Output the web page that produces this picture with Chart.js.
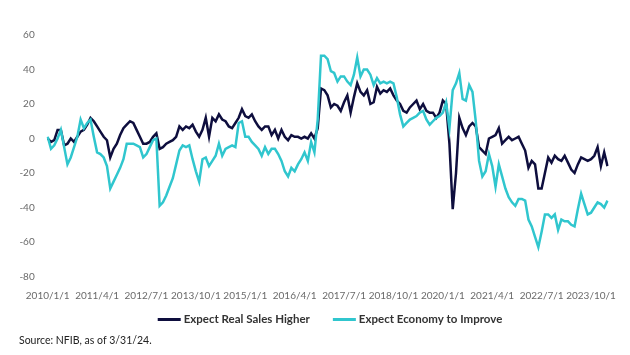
<!DOCTYPE html>
<html>
<head>
<meta charset="utf-8">
<script src="https://cdn.jsdelivr.net/npm/chart.js@4.4.1/dist/chart.umd.min.js"></script>
<style>
html,body{margin:0;padding:0;background:#ffffff;}
#wrap{width:630px;height:355px;position:relative;}
</style>
</head>
<body>
<div id="wrap"><canvas id="c" width="630" height="355"></canvas></div>
<script>
// Monthly categories, 2010/1/1 .. 2024/3/1
const startYear = 2010;
const monthCount = 171;
const categories = [];
for (let k = 0; k < monthCount; k++) {
  categories.push((startYear + Math.floor(k / 12)) + '/' + (k % 12 + 1) + '/1');
}

// Tick labels shown on the x axis
const tickLabels = ['2010/1/1','2011/4/1','2012/7/1','2013/10/1','2015/1/1','2016/4/1',
  '2017/7/1','2018/10/1','2020/1/1','2021/4/1','2022/7/1','2023/10/1'];

const seriesNames = ['Expect Real Sales Higher', 'Expect Economy to Improve'];

// Expect Real Sales Higher (net %)
const realSalesHigher = [
  0, -2, -1, 5, 5, -4, -3, 0, -2, 1,
  4, 5, 8, 12, 10, 7, 4, 1, -1, -11,
  -6, -3, 2, 6, 8, 10, 9, 5, 1, -3,
  -3, -2, 1, 3, -6, -5, -3, -2, -1, 1,
  7, 5, 7, 6, 8, 4, 1, 5, 12, 1,
  12, 10, 14, 11, 10, 7, 6, 9, 12, 17,
  13, 12, 14, 10, 7, 5, 7, 7, 2, 5,
  0, 5, 1, -1, 2, 1, 1, 0, 1, 0,
  3, 0, 6, 29, 28, 25, 18, 20, 19, 16,
  21, 25, 15, 24, 32, 27, 25, 28, 20, 21,
  30, 26, 28, 27, 29, 25, 22, 20, 16, 15,
  18, 20, 22, 17, 20, 16, 15, 15, 12, 15,
  22, 20, -3, -41, -20, 12, 6, 2, 7, 9,
  7, -5, -7, -9, 0, 1, 2, 6, -3, -1,
  1, -1, 0, 1, -3, -7, -17, -13, -15, -29,
  -29, -20, -11, -14, -10, -12, -13, -10, -14, -18,
  -20, -15, -11, -12, -13, -12, -10, -5, -16, -8,
  -16
];

// Expect Economy to Improve (net %)
const economyToImprove = [
  1, -6, -4, 0, 5, -5, -15, -11, -5, 1,
  11, 6, 9, 11, 1, -8, -9, -11, -16, -29,
  -25, -21, -17, -12, -3, -3, -3, -4, -5, -11,
  -9, -5, -1, 0, -39, -37, -33, -28, -23, -15,
  -7, -4, -5, -4, -12, -19, -25, -12, -11, -16,
  -13, -10, -3, -10, -6, -5, -4, -5, 9, 10,
  1, 1, -2, -4, -6, -10, -5, -9, -6, -6,
  -9, -13, -19, -22, -17, -19, -15, -12, -8, -13,
  -2, -8, 11, 48, 48, 46, 39, 38, 33, 36,
  36, 33, 31, 37, 47, 36, 40, 40, 37, 31,
  35, 32, 33, 32, 33, 32, 24, 14, 7, 9,
  11, 12, 13, 15, 16, 11, 8, 10, 12, 13,
  15, 21, 6, 28, 32, 38, 23, 22, 31, 27,
  10, -13, -22, -19, -9, -16, -28, -15, -22, -29,
  -34, -37, -39, -35, -35, -36, -47, -51, -57, -63,
  -54, -44, -44, -46, -44, -53, -47, -48, -48, -50,
  -51, -41, -32, -38, -44, -43, -40, -37, -38, -40,
  -36
];

const yTicks = { min: -80, max: 60, step: 20 };

const NAVY = '#0e0e3e';
const CYAN = '#30c6ce';
const TICK_COLOR = '#6a6a6a';
const FONT = 'Lato, "Open Sans", sans-serif';

// Legend drawn below the axis, centred like the original
const bottomLegend = {
  id: 'bottomLegend',
  afterDraw(chart) {
    const ctx = chart.ctx;
    const swatch = 23, textGap = 3, itemGap = 23, centerX = 330, y = 319;
    ctx.save();
    ctx.font = 'bold 11.5px ' + FONT;
    ctx.textBaseline = 'middle';
    ctx.textAlign = 'left';
    const items = chart.data.datasets.map(ds => ({
      text: ds.label, color: ds.borderColor, lw: 3,
      tw: ctx.measureText(ds.label).width
    }));
    const total = items.reduce((s, it) => s + swatch + textGap + it.tw, 0) + itemGap * (items.length - 1);
    let x = centerX - total / 2;
    items.forEach(it => {
      ctx.strokeStyle = it.color;
      ctx.lineWidth = it.lw;
      ctx.lineCap = 'butt';
      ctx.beginPath();
      ctx.moveTo(x, y + 0.5);
      ctx.lineTo(x + swatch, y + 0.5);
      ctx.stroke();
      ctx.fillStyle = '#333333';
      ctx.fillText(it.text, x + swatch + textGap, y);
      x += swatch + textGap + it.tw + itemGap;
    });
    ctx.restore();
  }
};

new Chart(document.getElementById('c'), {
  type: 'line',
  data: {
    labels: categories,
    datasets: [
      { label: seriesNames[0], data: realSalesHigher, borderColor: NAVY, backgroundColor: NAVY,
        borderWidth: 2.5, pointRadius: 0, tension: 0, order: 2 },
      { label: seriesNames[1], data: economyToImprove, borderColor: CYAN, backgroundColor: CYAN,
        borderWidth: 2.5, pointRadius: 0, tension: 0, order: 1 }
    ]
  },
  plugins: [bottomLegend],
  options: {
    responsive: false,
    animation: false,
    devicePixelRatio: 1,
    layout: { padding: { left: 19, right: 22.5, top: 35, bottom: 7.7 } },
    scales: {
      x: {
        type: 'category',
        offset: false,
        grid: { display: false, drawTicks: false },
        border: { display: false },
        ticks: {
          autoSkip: false, maxRotation: 0, minRotation: 0, padding: 13.5,
          color: TICK_COLOR, font: { family: FONT, size: 10 },
          callback: function (v, i) { const l = categories[i]; return tickLabels.includes(l) ? l : null; }
        },
        afterFit: function (s) { s.height = 26; }
      },
      y: {
        min: yTicks.min, max: yTicks.max,
        grid: { display: false, drawTicks: false },
        border: { display: false },
        ticks: { stepSize: yTicks.step, padding: 13, color: TICK_COLOR, font: { family: FONT, size: 10 } },
        afterFit: function (s) { s.width = 28.7; }
      }
    },
    plugins: {
      legend: { display: false },
      title: {
        display: true,
        position: 'bottom',
        align: 'start',
        text: 'Source: NFIB, as of 3/31/24.',
        color: '#222222',
        font: { family: FONT, size: 10.5, weight: 'normal' },
        padding: { top: 32.2, bottom: 0 }
      },
      tooltip: { enabled: false }
    }
  }
});
</script>
</body>
</html>
